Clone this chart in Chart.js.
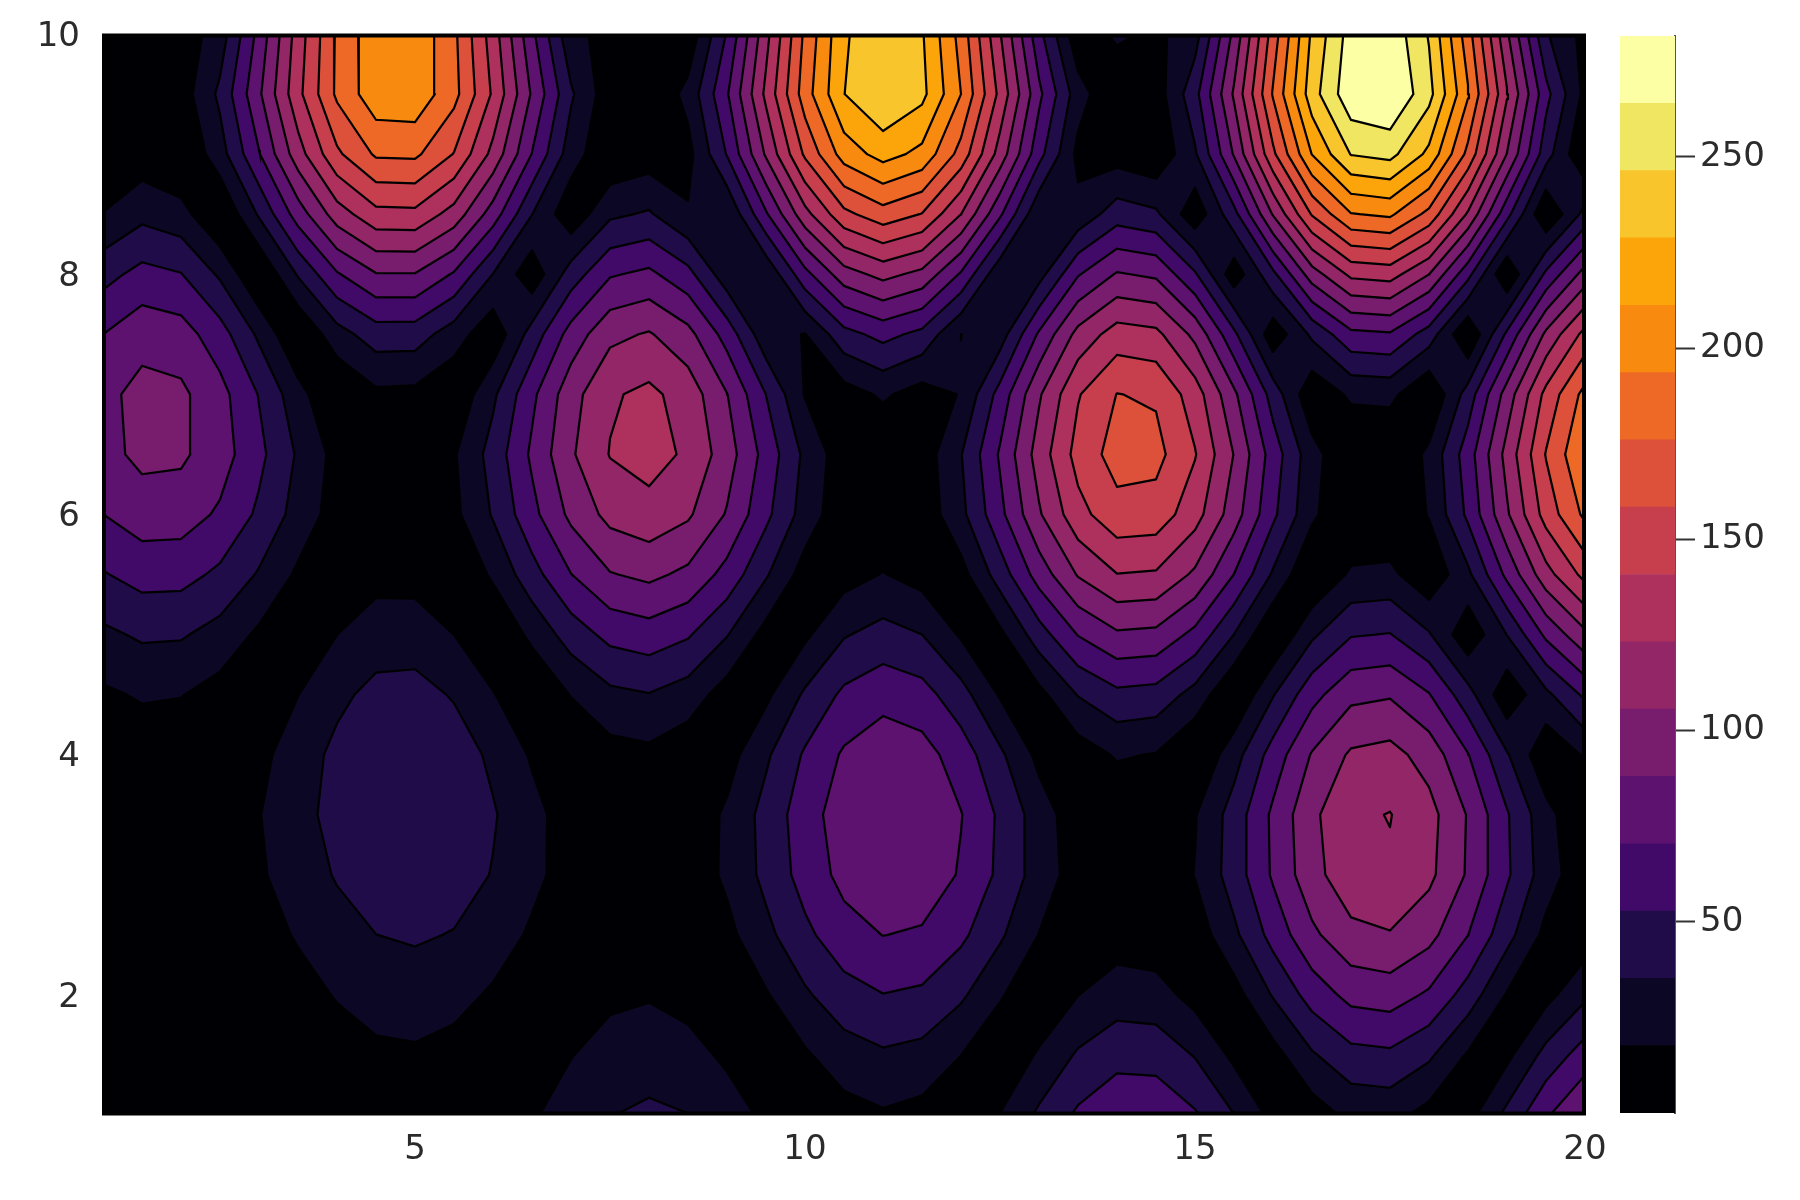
<!DOCTYPE html>
<html>
<head>
<meta charset="utf-8">
<style>
html,body{margin:0;padding:0;background:#fff;width:1800px;height:1200px;overflow:hidden}
canvas{position:absolute;left:0;top:0;filter:blur(0.7px)}
</style>
<script src="https://cdn.jsdelivr.net/npm/chart.js@4/dist/chart.umd.min.js"></script>
</head>
<body>
<canvas id="contour" width="1800" height="1200"></canvas>
<canvas id="colorbar" width="1800" height="1200"></canvas>
<script>
const gridX=[1,1.5,2,2.5,3,3.5,4,4.5,5,5.5,6,6.5,7,7.5,8,8.5,9,9.5,10,10.5,11,11.5,12,12.5,13,13.5,14,14.5,15,15.5,16,16.5,17,17.5,18,18.5,19,19.5,20];
const gridY=[1,1.5,2,2.5,3,3.5,4,4.5,5,5.5,6,6.5,7,7.5,8,8.5,9,9.5,10];
const zAtY1=[5.5,8.5,10.1,9.7,6.8,2.2,2.8,6.3,6.7,2.9,5,15.5,26.3,34.7,38.2,35.5,26.7,13.7,.1,11,15.6,11.9,.1,18.2,38.4,55.8,65.8,65.6,54.8,35.5,12.4,8.7,21.9,23.3,11.6,11.2,40,68.2,88.6];
const zAtY1_5=[4.8,7.2,8.1,6.5,2.4,3.6,9.8,14.3,15.3,11.9,4.2,6.2,16.9,25,27.8,24.1,14.1,.1,15.3,27.3,32.8,29.6,17.8,.2,20.2,37.4,47,46,34.1,13.5,10.9,33.2,47.4,49.5,38.3,15.7,13.1,41.1,61.2];
const zAtY2=[3,4.9,4.9,2.1,3.6,11.1,18.8,24.4,26.1,23,15.3,4.7,6,13.8,16.1,11.3,.1,16,32.6,46,52.4,49.7,38.1,20,.2,17.3,26.4,24.6,11.5,10.6,36.6,60.3,75.8,78.6,67.7,45.1,16.2,11.8,31.8];
const zAtY2_5=[.4,2.1,1.3,2.8,10.1,19.3,28.4,35.1,37.4,34.3,26.2,15.1,3.9,3.9,5.7,.1,12.9,30.5,48.8,63.5,70.7,68.3,56.5,37.9,17.2,.1,9.1,6.7,7.7,31.4,59.1,84.3,100.9,104.4,93.5,70.6,41.2,12.7,7.4];
const zAtY3=[1.8,.1,1.2,6.5,15.3,26.1,36.7,44.3,46.8,43.2,34.3,22.1,10,1.6,0,6.6,20.8,39.9,59.8,75.7,83.6,81.1,68.7,49.1,27.4,9.2,0,2.9,18.3,43.5,72.8,99.6,117.1,120.9,109.7,85.9,55.4,26,5.3];
const zAtY3_5=[1.4,1,.5,6.7,16.9,29.3,41.1,49.3,51.7,47.2,36.8,22.9,9.3,.1,1.9,5.2,20.6,41.2,62.6,79.5,87.6,84.7,71.1,49.9,26.5,7,2.9,.1,16.4,42.9,73.8,101.8,120,123.8,111.8,86.7,54.5,23.4,1.7];
const zAtY4=[3.6,7.1,5.6,1.3,12.8,26.6,39.5,48.1,50,44.2,31.7,15.6,.1,10.9,13.4,6,10.4,32.4,55.1,72.8,81,77.2,61.9,38.5,12.8,8.5,19.5,16.7,.2,27.9,60.3,89.4,108.2,111.6,98.3,71.2,36.8,3.6,19.7];
const zAtY4_5=[14.7,19.5,18.3,10.8,2,17.3,31.2,40.1,41.2,33.7,18.8,.2,18.4,31.1,34.5,26.9,9.5,13.9,37.9,56.4,64.5,59.5,42,16,12.4,36,48.5,46.2,28.7,.3,34,64.4,83.5,86.3,71.4,41.9,4.7,31.1,56.3];
const zAtY5=[31.5,37.8,37,28.7,14.4,2.4,17.5,26.7,27,17.5,.2,22.2,43.3,58,62.4,54.7,36.2,11.2,14.3,33.7,41.5,35.2,15.4,13.6,45,71.2,85.4,83.5,65.4,35,.3,31.9,51.5,53.6,36.9,4.7,35.6,74.2,101.7];
const zAtY5_5=[51.5,59.3,58.7,49.3,33.4,14.6,2,11.8,11.3,.1,20.7,46,70,86.9,92.1,84,64.2,37.2,9.9,10.6,18.4,10.8,11.4,43.5,78.2,107,122.8,121.2,102.3,70.2,32.9,.2,20.5,22.1,3.6,31.4,74.9,116.6,146.3];
const zAtY6=[70.3,79.3,78.5,67.8,49.6,28.3,9.8,.9,.1,13.4,36.8,65.2,92.2,111,117,108.2,86.5,57.1,27.5,5.4,2.7,6,30.5,65.7,103.5,134.9,152.2,150.7,130.5,96.3,56.5,21.2,.1,1.4,18.8,56.5,103.2,148,179.8];
const zAtY6_5=[82.3,92.3,91,78.4,57.3,33,11.9,.1,1,15.9,42,73.6,103.3,124,130.2,120.3,96.2,63.8,31.3,7.1,1.8,7.8,34.4,72.6,113.5,147.3,165.7,163.9,141.9,105,62.2,24.3,1.4,.1,21.7,62,111.8,159.4,193.2];
const zAtY7=[83,93.7,91.5,76.4,51.9,24,.2,14,13.1,3.2,31.8,66.4,98.8,121,127.3,115.7,88.6,52.6,16.6,10.1,20.2,10.2,18.5,59.5,103.3,139.4,158.8,156.2,132,91.7,45.2,4.1,20.8,22.5,.3,43,95.8,146.1,181.7];
const zAtY7_5=[70.4,81.7,78.2,60.3,31.8,.3,28,44,43.6,26.1,5,42.5,77.5,101.2,107.2,93.6,63.2,23,17,46.8,58.3,48,17.5,26.3,73,111.3,131.4,127.8,100.9,56.8,6.1,38.6,65.9,68.4,44.6,.5,56.2,109.3,146.4];
const zAtY8=[46.6,58.4,53.5,32.4,.3,37,68.6,87,87.2,68.5,34.8,5.8,43.5,68.6,74.3,58.4,24.3,20.4,64.8,97.9,111.1,100.6,68.2,21.5,28.3,68.8,89.6,84.9,55,6.7,48.5,97.3,127.3,130.6,105.8,58.3,.5,56.4,95.2];
const zAtY8_5=[18,30.4,24,.3,37.4,78.8,114.5,135.4,136.2,116,79.5,35.5,5.1,31.8,37.3,19.2,18.8,68.2,117.2,153.7,168.6,157.7,123.3,73.3,20.2,22.8,44.4,38.5,5.7,47,107,160,192.7,196.8,170.8,120.7,58.4,.5,41.1];
const zAtY9=[5.8,7.4,.2,27.7,69.3,115.5,155.1,178.5,179.5,157.6,117.9,69.9,25.9,2.8,8.2,12,53.9,108,161.5,201.5,217.9,206.4,169.4,115.8,58.9,13,9.8,3,32.9,89.8,154.7,211.8,247.2,251.9,224.4,171.1,105,42.6,.3];
const zAtY9_5=[14.5,0,8.5,39,85,135.8,179.3,204.9,205.9,181.8,138.2,85.8,37.8,6.7,.9,23,68.6,127.3,185.3,228.5,246.2,233.6,193.6,135.9,74.6,25.3,.9,8.3,46.9,108.1,177.7,238.8,276.7,281.6,252.2,195.3,124.8,58.3,12.7];
const zAtY10=[.2,16.6,7.4,25.9,76.1,131.5,178.7,206.2,206.8,179.9,132,74.6,22,12.1,18.6,5.1,54.2,117.5,179.8,226,244.6,230.6,187.1,124.5,58.2,5,21.5,13.7,27.4,92.7,166.8,231.9,271.9,276.7,244.9,183.7,108.2,37,11.8];
const zRows=[zAtY1,zAtY1_5,zAtY2,zAtY2_5,zAtY3,zAtY3_5,zAtY4,zAtY4_5,zAtY5,zAtY5_5,zAtY6,zAtY6_5,zAtY7,zAtY7_5,zAtY8,zAtY8_5,zAtY9,zAtY9_5,zAtY10];

const contourLevels=[17.6,35.2,52.8,70.4,88,105.6,123.2,140.8,158.4,176,193.6,211.2,228.8,246.4,264];
const bandColors=['#000004','#0b0724','#210c4a','#420a68','#5c126e','#781c6d','#932667','#ae305c','#c73e4c','#dd513a','#ed6925','#f98a10','#fca50a','#f9c52c','#f1e661','#fcffa4'];
const zMin=0, zMax=281.6;
const xTicks=[5,10,15,20];
const yTicks=[2,4,6,8,10];
const colorbarTicks=[50,100,150,200,250];

const FONT='"DejaVu Sans"';
const TEXT='#2b2b2b';
const LINE='#000000';

function cutCell(i,j,L){
  const c=[[i,j],[i+1,j],[i+1,j+1],[i,j+1]];
  const zs=c.map(q=>zRows[q[1]][q[0]]);
  const walk=[],cross=[];
  for(let k=0;k<4;k++){
    const a=c[k],b=c[(k+1)%4];
    const za=zs[k],zb=zs[(k+1)%4];
    const ia=za>=L,ib=zb>=L;
    const pa={x:gridX[a[0]],y:gridY[a[1]]},pb={x:gridX[b[0]],y:gridY[b[1]]};
    if(ia)walk.push(pa);
    if(ia!==ib){
      const t=(L-za)/(zb-za);
      const p={x:pa.x+(pb.x-pa.x)*t,y:pa.y+(pb.y-pa.y)*t};
      walk.push(p);cross.push({p,exit:ia});
    }
  }
  const saddle=cross.length===4;
  const lowJoined=saddle&&(zs[0]+zs[1]+zs[2]+zs[3])/4<L;
  let polys=walk.length>2?[walk]:[];
  if(lowJoined){
    // the two high corners stay apart: one triangle around each
    polys=[];
    for(let k=0;k<4;k++){
      if(zs[k]>=L){
        const idx=walk.findIndex(q=>q.x===gridX[c[k][0]]&&q.y===gridY[c[k][1]]);
        polys.push([walk[(idx+walk.length-1)%walk.length],walk[idx],walk[(idx+1)%walk.length]]);
      }
    }
  }
  const wantFirstExit=!lowJoined;
  if(cross.length&&cross[0].exit!==wantFirstExit)cross.push(cross.shift());
  const segs=[];
  for(let k=0;k+1<cross.length;k+=2)segs.push([cross[k].p,cross[k+1].p]);
  return {polys,segs};
}
function cellsAt(L){
  const polys=[],line=[];
  for(let j=0;j<gridY.length-1;j++)for(let i=0;i<gridX.length-1;i++){
    const r=cutCell(i,j,L);
    polys.push(...r.polys);
    r.segs.forEach(s=>{line.push(s[0],s[1],{x:null,y:null});});
  }
  return {polys,line};
}
const cut=contourLevels.map(cellsAt);

const bandFill={
  id:'bandFill',
  beforeDatasetsDraw(chart){
    const {ctx,chartArea:a,scales:{x,y}}=chart;
    ctx.save();
    ctx.fillStyle=bandColors[0];
    ctx.fillRect(a.left,a.top,a.width,a.height);
    cut.forEach((c,k)=>{
      ctx.beginPath();
      c.polys.forEach(p=>{
        p.forEach((q,n)=>{
          const px=x.getPixelForValue(q.x),py=y.getPixelForValue(q.y);
          n?ctx.lineTo(px,py):ctx.moveTo(px,py);
        });
        ctx.closePath();
      });
      ctx.fillStyle=bandColors[k+1];
      ctx.fill();
    });
    ctx.restore();
  },
  afterDatasetsDraw(chart){
    const {ctx,chartArea:a}=chart;
    ctx.save();ctx.strokeStyle='#000';ctx.lineWidth=4;
    ctx.strokeRect(a.left+1,a.top+1.5,a.width-2,a.height-3);
    ctx.restore();
  }
};

new Chart(document.getElementById('contour'),{
  type:'scatter',
  data:{datasets:cut.map((c,k)=>({
    label:'z = '+contourLevels[k],
    data:c.line,showLine:true,pointRadius:0,borderColor:LINE,borderWidth:2.2,
    borderCapStyle:'round',spanGaps:false,fill:false,tension:0
  }))},
  options:{
    responsive:false,animation:false,events:[],
    layout:{padding:{top:34,right:215,left:0,bottom:0}},
    plugins:{legend:{display:false},tooltip:{enabled:false}},
    scales:{
      x:{type:'linear',min:1,max:20,
        afterBuildTicks(s){s.ticks=xTicks.map(value=>({value}));},
        afterFit(s){s.height=85;s.paddingLeft=0;s.paddingRight=0;},
        grid:{display:false},border:{display:false},
        ticks:{autoSkip:false,maxRotation:0,padding:7,color:TEXT,font:{family:FONT,size:34},callback:v=>String(v)}},
      y:{type:'linear',min:1,max:10,
        afterBuildTicks(s){s.ticks=yTicks.map(value=>({value}));},
        afterFit(s){s.width=103;s.paddingTop=0;s.paddingBottom=0;},
        grid:{display:false},border:{display:false},
        ticks:{autoSkip:false,padding:15,labelOffset:3,color:TEXT,font:{family:FONT,size:34},callback:v=>String(v)}}
    }
  },
  plugins:[bandFill]
});

const bandEdges=[zMin,...contourLevels,zMax];
new Chart(document.getElementById('colorbar'),{
  type:'bar',
  data:{labels:['z'],datasets:bandColors.map((col,k)=>({
    label:'band '+k,data:[[bandEdges[k],bandEdges[k+1]]],backgroundColor:col,borderWidth:0,
    barPercentage:1,categoryPercentage:1,grouped:false
  }))},
  options:{
    responsive:false,animation:false,events:[],
    layout:{padding:{top:36,left:1620,bottom:87,right:0}},
    plugins:{legend:{display:false},tooltip:{enabled:false}},
    scales:{
      x:{display:false},
      y:{position:'right',min:zMin,max:zMax,
        afterBuildTicks(s){s.ticks=colorbarTicks.map(value=>({value}));},
        afterFit(s){s.width=125;s.paddingTop=0;s.paddingBottom=0;},
        grid:{drawOnChartArea:false,drawTicks:true,tickLength:20,tickColor:'#333',tickWidth:2},
        border:{display:true,color:'#555',width:2},
        ticks:{padding:5,color:TEXT,font:{family:FONT,size:34},callback:v=>String(v)}}
    }
  }
});
</script>
</body>
</html>
